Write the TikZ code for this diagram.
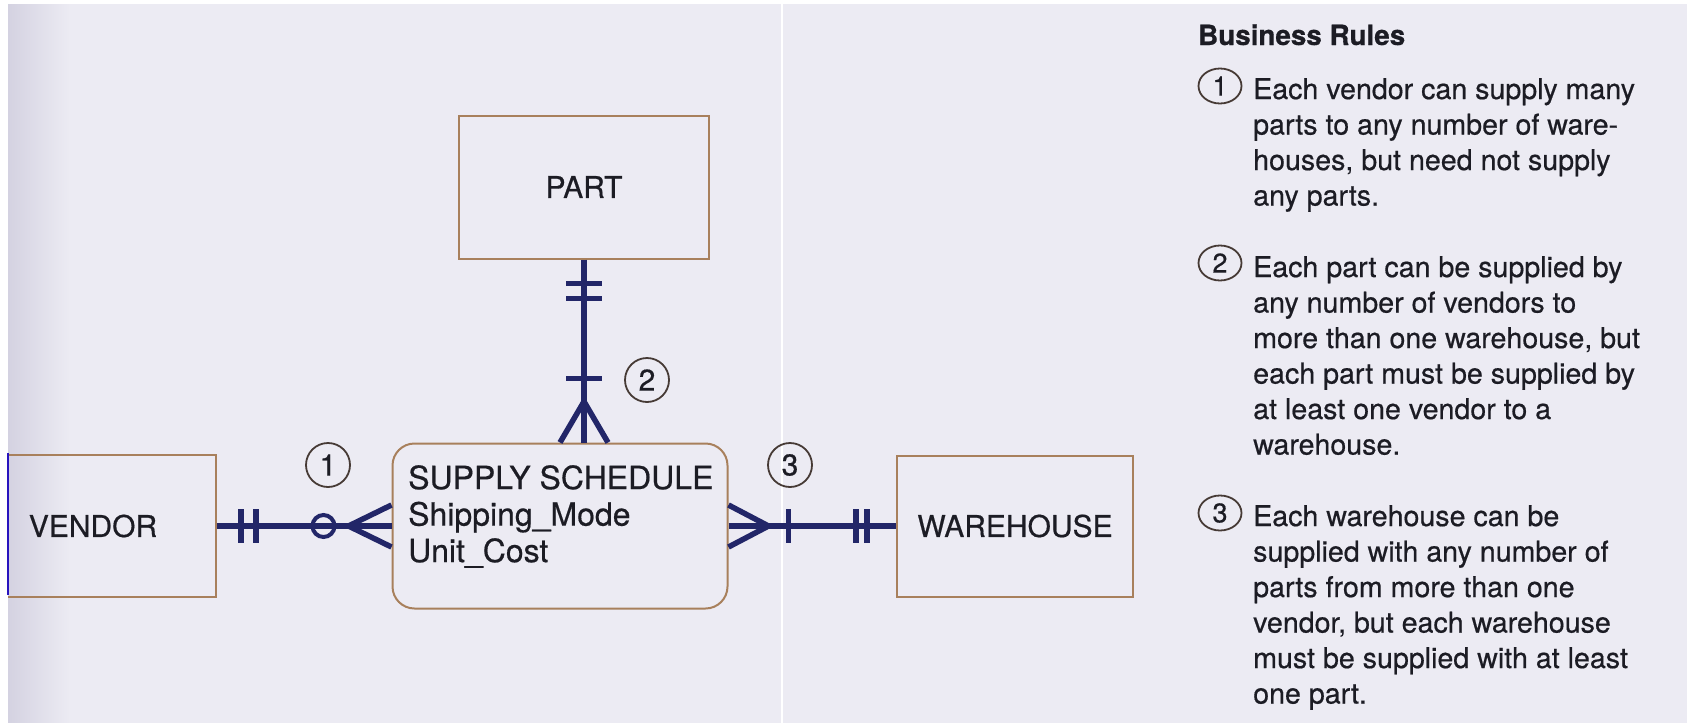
\documentclass[tikz,border=0pt]{standalone}
\usepackage{fontspec}
\setmainfont{TeX Gyre Heros}[FakeBold=0.5]
\usetikzlibrary{calc,shapes.geometric}
\definecolor{paper}{RGB}{236,235,243}
\definecolor{paperdark}{RGB}{212,210,225}
\definecolor{ink}{RGB}{28,28,36}
\definecolor{navy}{RGB}{34,38,104}
\definecolor{boxtan}{RGB}{168,128,92}
\definecolor{scanblue}{RGB}{40,20,190}

\begin{document}
\begin{tikzpicture}[x=1pt, y=-1pt,
    entity/.style={draw=boxtan, line width=2pt, text=ink, inner sep=0pt,
      font=\fontsize{30}{36}\selectfont},
    rel/.style={draw=navy, line width=5.5pt},
    numtag/.style={draw=ink!70!boxtan, line width=1.8pt, circle, minimum size=44pt,
      inner sep=0pt, text=ink, font=\fontsize{30}{30}\selectfont},
    ruletag/.style={numtag, ellipse, minimum width=43pt, minimum height=35pt,
      font=\fontsize{27}{27}\selectfont},
    ruletext/.style={text=ink, font=\fontsize{28.6}{35.5}\selectfont, align=left,
      anchor=north west, inner sep=0pt}]
    \useasboundingbox (0,0) rectangle (1687,723);
    % scanned page
    \fill[paper] (0,0) rectangle (1687,723);
    \shade[left color=paperdark, right color=paper] (8,0) rectangle (70,723);
    \draw[white, line width=2pt] (782,0) -- (782,723);
    % entities
    \node[entity, minimum width=246pt, minimum height=142pt] (vendor) at (93,526) {VENDOR};
    \node[entity, minimum width=250pt, minimum height=143pt] (part) at (584,187) {PART};
    \node[entity, rounded corners=22pt, minimum width=335pt, minimum height=165pt] (sched) at (560,526) {};
    \node[entity, minimum width=236pt, minimum height=141pt] (house) at (1015,526) {WAREHOUSE};
    \node[anchor=north west, align=left, inner sep=0pt, text=ink,
      font=\fontsize{32}{36.5}\selectfont] (schedtxt) at (408,465)
      {SUPPLY SCHEDULE\\Shipping\_Mode\\Unit\_Cost};
    \fill[white] (0,0) rectangle (8,723);
    \fill[white] (0,0) rectangle (1687,4);
    \draw[scanblue, line width=2pt] (8,453) -- (8,595);
    % vendor -- schedule
    \draw[rel] (vendor.east) -- (sched.west);
    \foreach \d in {24,39} \draw[rel] ($(vendor.east)+(\d,-17)$) -- ++(0,34);
    \draw[draw=navy, line width=4pt] ($(sched.west)+(-68,0)$) circle[radius=11pt];
    \draw[rel] ($(sched.west)+(0,-21)$) -- ($(sched.west)+(-43,0)$) -- ($(sched.west)+(0,21)$);
    % part -- schedule
    \coordinate (pfoot) at (part.south |- sched.north);
    \draw[rel] (part.south) -- (pfoot);
    \foreach \d in {24,39} \draw[rel] ($(part.south)+(-18,\d)$) -- ++(36,0);
    \draw[rel] ($(pfoot)+(-18,-64)$) -- ++(36,0);
    \draw[rel] ($(pfoot)+(-24,0)$) -- ($(pfoot)+(0,-41)$) -- ($(pfoot)+(24,0)$);
    % schedule -- warehouse
    \draw[rel] (sched.east) -- (house.west);
    \draw[rel] ($(sched.east)+(0,-21)$) -- ($(sched.east)+(40,0)$) -- ($(sched.east)+(0,21)$);
    \draw[rel] ($(sched.east)+(60,-17)$) -- ++(0,34);
    \foreach \d in {40,29} \draw[rel] ($(house.west)+(-\d,-17)$) -- ++(0,34);
    % rule numbers on the diagram
    \node[numtag] (t1) at (328,465) {1};
    \node[numtag] (t2) at (647,380) {2};
    \node[numtag] (t3) at (790,465) {3};
    % business rules
    \node[anchor=base west, inner sep=0pt, text=ink,
      font=\bfseries\fontsize{27.8}{30}\selectfont] (title) at (1198,45) {Business Rules};
    \node[ruletag] (n1) at (1220,86) {1};
    \node[ruletag] (n2) at (1220,263) {2};
    \node[ruletag] (n3) at (1220,513) {3};
    \node[ruletext] (r1) at (1253,78) {Each vendor can supply many\\parts to any number of ware-\\houses, but need not supply\\any parts.};
    \node[ruletext] (r2) at (1253,256) {Each part can be supplied by\\any number of vendors to\\more than one warehouse, but\\each part must be supplied by\\at least one vendor to a\\warehouse.};
    \node[ruletext] (r3) at (1253,505) {Each warehouse can be\\supplied with any number of\\parts from more than one\\vendor, but each warehouse\\must be supplied with at least\\one part.};
\end{tikzpicture}
\end{document}
